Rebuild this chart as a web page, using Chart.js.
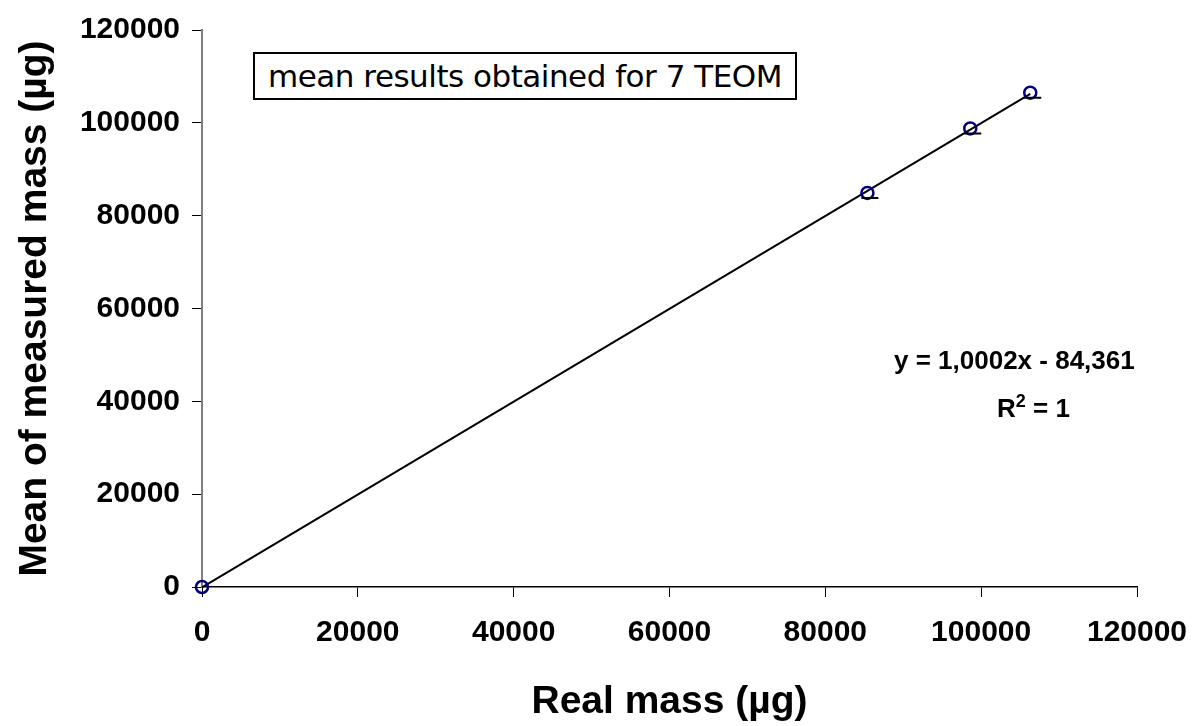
<!DOCTYPE html>
<html>
<head>
<meta charset="utf-8">
<script src="https://cdn.jsdelivr.net/npm/chart.js@4.4.0/dist/chart.umd.min.js"></script>
<style>
  body { margin: 0; background: #fff; }
  #wrap { position: relative; width: 1192px; height: 726px; }
  #box { position: absolute; left: 253px; top: 52px; width: 540px; height: 44px;
         border: 2px solid #000; font-family: "DejaVu Sans", sans-serif; font-size: 31px;
         line-height: 44px; text-align: center; color: #000; background: #fff; letter-spacing: -0.5px; }
  .eq { position: absolute; font-family: "Liberation Sans", Arial, sans-serif; font-weight: bold;
        font-size: 26px; color: #000; white-space: nowrap; }
</style>
</head>
<body>
<div id="wrap">
  <canvas id="chart" width="1192" height="726"></canvas>
  <div id="box">mean results obtained for 7 TEOM</div>
  <div class="eq" style="left:894px; top:345px;">y = 1,0002x - 84,361</div>
  <div class="eq" style="left:997px; top:391px;">R<sup style="font-size:18px;">2</sup> = 1</div>
</div>
<script>
// data
var realMass = [0, 85400, 98600, 106300];
var measuredMass = [0, 84900, 98800, 106500];
var errorLow = [0, 1100, 1100, 1100];   // lower error bar length
var slope = 1.0002;
var intercept = -84.361;
var tickValues = [0, 20000, 40000, 60000, 80000, 100000, 120000];

var points = realMass.map((x, i) => ({ x: x, y: measuredMass[i] }));
var xMin = Math.min.apply(null, realMass), xMax = Math.max.apply(null, realMass);
var trend = [xMin, xMax].map(x => ({ x: x, y: slope * x + intercept }));

// small error caps, drawn like excel (cap below the marker)
var errorCaps = {
    id: 'errorCaps',
    afterDatasetsDraw(chart) {
        const ctx = chart.ctx, xs = chart.scales.x, ys = chart.scales.y;
        ctx.save();
        ctx.strokeStyle = '#000';
        ctx.lineWidth = 2;
        points.forEach((p, i) => {
            if (i == 0) return;
            const px = xs.getPixelForValue(p.x), py = ys.getPixelForValue(p.y - errorLow[i]);
            ctx.beginPath();
            ctx.moveTo(px - 6, py);
            ctx.lineTo(px + 11, py);
            ctx.stroke();
        });
        ctx.restore();
    }
};

const config = {
    type: 'scatter',
    data: {
        datasets: [{
            data: points,
            pointRadius: 6,
            pointBorderColor: '#000080',
            pointBackgroundColor: 'rgba(255,255,255,0)',
            pointBorderWidth: 2.5,
            clip: false,
            order: 1
        }, {
            type: 'line',
            data: trend,
            borderColor: '#000',
            borderWidth: 2,
            pointRadius: 0,
            clip: false,
            order: 2
        }]
    },
    options: {
        responsive: false,
        animation: false,
        layout: { padding: { top: 26, right: 55, left: 0, bottom: 0 } },
        plugins: {
            legend: { display: false },
            tooltip: { enabled: false }
        },
        scales: {
            x: {
                type: 'linear',
                min: 0, max: 120000,
                afterBuildTicks: s => { s.ticks = tickValues.map(v => ({ value: v })); },
                afterFit: s => { s.height = 139; s.paddingLeft = 0; s.paddingRight = 0; },
                border: { color: '#000', width: 1.5 },
                grid: { drawOnChartArea: false, drawTicks: true, tickLength: 10, color: '#000' },
                ticks: {
                    color: '#000', padding: 18,
                    callback: v => String(v),
                    font: { family: 'Liberation Sans', size: 30, weight: 'bold' }
                },
                title: {
                    display: true, text: 'Real mass (µg)', color: '#000',
                    font: { family: 'Liberation Sans', size: 39, weight: 'bold' },
                    padding: { top: 0, bottom: 0 }
                }
            },
            y: {
                type: 'linear',
                min: 0, max: 120000,
                afterBuildTicks: s => { s.ticks = tickValues.map(v => ({ value: v })); },
                afterFit: s => { s.width = 202; },
                border: { color: '#808080', width: 2 },
                grid: { drawOnChartArea: false, drawTicks: true, tickLength: 10, color: '#000' },
                ticks: {
                    color: '#000', padding: 12,
                    callback: v => String(v),
                    font: { family: 'Liberation Sans', size: 30, weight: 'bold' }
                },
                title: {
                    display: true, text: 'Mean of measured mass (µg)', color: '#000',
                    font: { family: 'Liberation Sans', size: 39, weight: 'bold' },
                    padding: { top: 12, bottom: 0 }
                }
            }
        }
    },
    plugins: [errorCaps]
};

new Chart(document.getElementById('chart'), config);
</script>
</body>
</html>
